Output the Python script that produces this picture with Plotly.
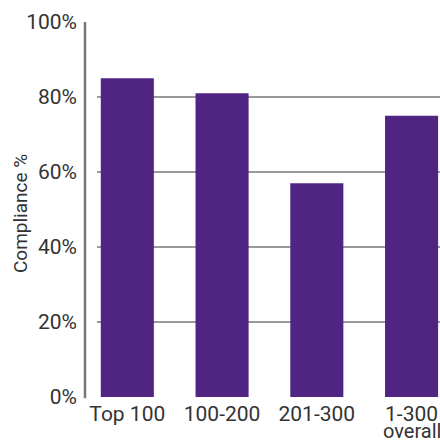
import plotly.graph_objects as go

categories = ["Top 100", "100-200", "201-300", "1-300 overall"]
tick_labels = ["Top 100", "100-200", "201-300", "1-300"]
tick_sublabels = ["", "", "", "overall"]
compliance = [85, 81, 57, 75]
y_ticks = [0, 20, 40, 60, 80, 100]
y_tick_labels = ["0%", "20%", "40%", "60%", "80%", "100%"]

FONT = "Roboto, Liberation Sans, sans-serif"
BAR = "#4f2483"
TEXT = "#333333"

fig = go.Figure(
    go.Bar(
        x=categories,
        y=compliance,
        marker=dict(color=BAR, line=dict(width=0)),
        width=0.56,
        hoverinfo="x+y",
    )
)

# second line of category labels, set tighter than a <br> would give
sub_annotations = [
    dict(
        text=sub,
        x=cat,
        xref="x",
        yref="paper",
        y=-0.127,
        xanchor="center",
        yanchor="bottom",
        showarrow=False,
        font=dict(family=FONT, size=20, color=TEXT),
    )
    for cat, sub in zip(categories, tick_sublabels)
    if sub
]

fig.update_layout(
    width=440,
    height=445,
    margin=dict(l=97, r=0, t=22, b=48, autoexpand=False),
    paper_bgcolor="white",
    plot_bgcolor="white",
    showlegend=False,
    font=dict(family=FONT, size=21, color=TEXT),
    xaxis=dict(
        type="category",
        range=[-0.32, 3.30],
        automargin=False,
        tickvals=categories,
        ticktext=tick_labels,
        showgrid=False,
        showline=False,
        zeroline=False,
        ticks="",
        ticklabelstandoff=2,
        tickfont=dict(size=21, color=TEXT),
    ),
    yaxis=dict(
        range=[0, 100],
        automargin=False,
        tickvals=y_ticks,
        ticktext=y_tick_labels,
        showgrid=True,
        gridcolor="#9a9a9a",
        gridwidth=1.5,
        zeroline=False,
        showline=False,
        ticks="",
        ticklabelstandoff=19,
        tickfont=dict(size=21, color=TEXT),
    ),
    annotations=[
        dict(
            text="Compliance %",
            xref="paper",
            yref="paper",
            x=-0.225,
            y=0.49,
            xanchor="center",
            yanchor="middle",
            textangle=-90,
            showarrow=False,
            font=dict(family=FONT, size=19, color=TEXT),
        )
    ] + sub_annotations,
    shapes=[
        # vertical axis line sitting left of the gridlines
        dict(
            type="line",
            xref="paper",
            yref="paper",
            x0=-0.035,
            x1=-0.035,
            y0=-0.003,
            y1=1.0,
            line=dict(color="#777777", width=2.5),
        )
    ],
)

fig.write_html("out.html")
